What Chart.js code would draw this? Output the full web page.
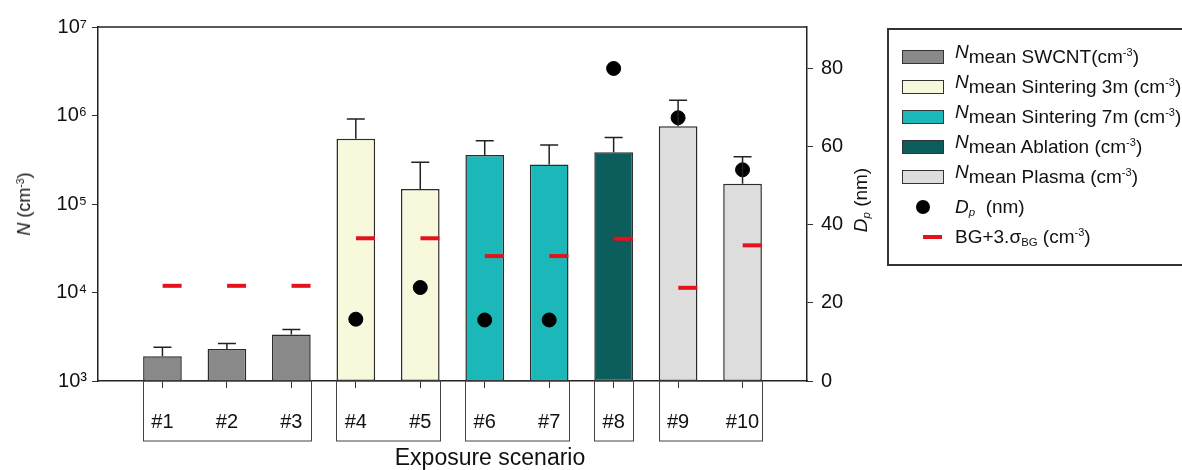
<!DOCTYPE html>
<html>
<head>
<meta charset="utf-8">
<script src="https://cdn.jsdelivr.net/npm/chart.js@4.4.0/dist/chart.umd.min.js"></script>
<style>
  html, body { margin: 0; padding: 0; background: #fff; overflow: hidden; }
  #wrap { position: relative; width: 1182px; height: 470px; overflow: hidden;
          font-family: 'Liberation Sans', Arial, sans-serif; color: #111; }
  #chart { position: absolute; left: 0; top: 0; }
  .ttl { position: absolute; white-space: nowrap; line-height: 1; }
  .rot { transform: translate(-50%, -50%) rotate(-90deg); }
  #xTitle { left: 490px; top: 457px; transform: translate(-50%, -50%); font-size: 23px; }
  #yTitle { left: 24px; top: 204px; font-size: 18px; }
  #y1Title { left: 860px; top: 200px; font-size: 19px; }
  #legend { position: absolute; left: 887px; top: 28px; width: 320px; height: 238px;
            border: 2px solid #333; box-sizing: border-box; padding-top: 12px; font-size: 19px; }
  .row { height: 30px; display: flex; align-items: center; white-space: nowrap; }
  .sym { width: 42px; height: 14px; margin-left: 13px; margin-right: 11px; position: relative; box-sizing: border-box; }
  .sw { border: 1.5px solid #333; }
  .dot { position: absolute; left: 14px; top: 0px; width: 14px; height: 14px; border-radius: 50%; background: #000; }
  .dash { position: absolute; left: 21px; top: 5px; width: 19px; height: 4px; background: #e3121b; }
  .up { position: relative; top: -5px; }
  sup { font-size: 0.58em; vertical-align: 0.6em; line-height: 0; }
  sub { font-size: 0.6em; vertical-align: -0.3em; line-height: 0; }
</style>
</head>
<body>
<div id="wrap">
  <canvas id="chart" width="1182" height="470"></canvas>
  <div id="xTitle" class="ttl">Exposure scenario</div>
  <div id="yTitle" class="ttl rot"><i>N</i> (cm<sup>-3</sup>)</div>
  <div id="y1Title" class="ttl rot"><i>D</i><sub><i>p</i></sub> (nm)</div>
  <div id="legend"></div>
</div>
<script>
// exposure scenarios and the measurement series they belong to
const scenarios = ['#1', '#2', '#3', '#4', '#5', '#6', '#7', '#8', '#9', '#10'];
const seriesNames = ['SWCNT', 'Sintering 3m', 'Sintering 7m', 'Ablation', 'Plasma'];
const seriesOf = [0, 0, 0, 1, 1, 2, 2, 3, 4, 4];

// N mean (cm-3), upper error, Dp (nm), background level BG+3 sigma (cm-3)
const nMean = [1900, 2300, 3350, 545000, 148000, 358000, 280000, 384000, 755000, 169000];
const nSD = [500, 360, 480, 367000, 148000, 161000, 184000, 182000, 735000, 174000];
const dpNm = [null, null, null, 15.8, 23.9, 15.6, 15.6, 79.9, 67.3, 54.0];
const bgLevel = [11900, 11900, 11900, 41000, 41000, 25800, 25800, 40500, 11300, 34100];

// tick labels
const leftTicks = [1e3, 1e4, 1e5, 1e6, 1e7];
const rightTicks = [0, 20, 40, 60, 80];

const seriesFill = ['#898989', '#f8f9dc', '#1cb8b9', '#0c5e5c', '#dddddd'];
const supDigits = ['\u2070', '\u00b9', '\u00b2', '\u00b3', '\u2074', '\u2075', '\u2076', '\u2077', '\u2078', '\u2079'];

const xPos = scenarios.map((s, i) => i + 1);

// legend (html so sub/superscripts come out right)
const legendEl = document.getElementById('legend');
seriesNames.forEach((name, s) => {
  const gap = s === 0 ? '' : ' ';
  legendEl.insertAdjacentHTML('beforeend',
    `<div class="row"><span class="sym sw" style="background:${seriesFill[s]}"></span>` +
    `<span><i class="up">N</i>mean ${name}${gap}(cm<sup>-3</sup>)</span></div>`);
});
legendEl.insertAdjacentHTML('beforeend',
  `<div class="row"><span class="sym"><span class="dot"></span></span><span><i>D</i><sub><i>p</i></sub>&nbsp; (nm)</span></div>`);
legendEl.insertAdjacentHTML('beforeend',
  `<div class="row"><span class="sym"><span class="dash"></span></span><span>BG+3.σ<sub>BG</sub> (cm<sup>-3</sup>)</span></div>`);

const barSets = seriesNames.map((name, s) => ({
  type: 'bar',
  label: name,
  data: xPos.filter((x, i) => seriesOf[i] === s).map(x => ({ x: x, y: nMean[x - 1] })),
  backgroundColor: seriesFill[s],
  borderColor: '#2b2b2b',
  borderWidth: 1.5,
  borderSkipped: false,
  grouped: false,
  barPercentage: 0.6,
  categoryPercentage: 1,
  yAxisID: 'y',
  order: 3
}));

const dpSet = {
  type: 'scatter',
  label: 'Dp (nm)',
  data: xPos.filter((x, i) => dpNm[i] != null).map(x => ({ x: x, y: dpNm[x - 1] })),
  pointRadius: 7,
  pointBackgroundColor: '#000',
  pointBorderColor: '#000',
  yAxisID: 'y1',
  order: 1
};

// red dash sits in the right half of each bar
const bgSet = {
  type: 'scatter',
  label: 'BG+3.sigma',
  data: xPos.map((x, i) => ({ x: x + 0.15, y: bgLevel[i] })),
  pointStyle: 'line',
  pointRadius: 9.5,
  pointBorderWidth: 4,
  pointBorderColor: '#e3121b',
  yAxisID: 'y',
  order: 2
};

const errorBars = {
  id: 'errorBars',
  afterDatasetsDraw(chart) {
    const { ctx, scales: { x, y } } = chart;
    ctx.save();
    ctx.strokeStyle = '#222';
    ctx.lineWidth = 1.5;
    nMean.forEach((m, i) => {
      const px = x.getPixelForValue(xPos[i]);
      const y0 = y.getPixelForValue(m);
      const y1 = y.getPixelForValue(m + nSD[i]);
      ctx.beginPath();
      ctx.moveTo(px, y0);
      ctx.lineTo(px, y1);
      ctx.moveTo(px - 9, y1);
      ctx.lineTo(px + 9, y1);
      ctx.stroke();
    });
    ctx.restore();
  }
};

const frame = {
  id: 'frame',
  afterDraw(chart) {
    const { ctx, chartArea: a, scales: { x } } = chart;
    ctx.save();
    ctx.strokeStyle = '#222';
    ctx.lineWidth = 1.5;
    ctx.beginPath();
    ctx.moveTo(a.left, a.top);
    ctx.lineTo(a.right, a.top);
    ctx.stroke();
    // boxes grouping the scenario labels of one series
    const groups = [];
    seriesOf.forEach((s, i) => {
      const g = groups[groups.length - 1];
      if (g && g.s === s) g.last = i; else groups.push({ s: s, first: i, last: i });
    });
    ctx.strokeStyle = '#444';
    ctx.lineWidth = 1;
    groups.forEach(g => {
      const l = Math.round(x.getPixelForValue(xPos[g.first] - 0.3)) + 0.5;
      const r = Math.round(x.getPixelForValue(xPos[g.last] + 0.3)) + 0.5;
      ctx.strokeRect(l, a.bottom, r - l, 60);
    });
    ctx.restore();
  }
};

Chart.defaults.font.family = "'Liberation Sans', Arial, sans-serif";
Chart.defaults.color = '#111';

new Chart(document.getElementById('chart'), {
  type: 'bar',
  data: { datasets: [...barSets, bgSet, dpSet] },
  options: {
    responsive: false,
    animation: false,
    devicePixelRatio: 1,
    layout: { padding: { top: 27, right: 300, left: 0, bottom: 0 } },
    plugins: { legend: { display: false }, tooltip: { enabled: false } },
    scales: {
      x: {
        type: 'linear', min: 0, max: 11, offset: false,
        afterBuildTicks: sc => { sc.ticks = xPos.map(v => ({ value: v })); },
        ticks: { callback: v => scenarios[v - 1] || '', font: { size: 20 }, padding: 22, maxRotation: 0, autoSkip: false },
        grid: { offset: false, drawOnChartArea: false, tickLength: 7, color: '#333' },
        border: { color: '#222', width: 1.5 },
        afterFit: sc => { sc.height = 89; }
      },
      y: {
        type: 'logarithmic', position: 'left', min: 1e3, max: 1e7,
        afterBuildTicks: sc => { sc.ticks = leftTicks.map(v => ({ value: v })); },
        ticks: { callback: v => '10' + supDigits[Math.round(Math.log10(v))], font: { size: 20 }, padding: 5 },
        grid: { drawOnChartArea: false, tickLength: 6, color: '#333' },
        border: { color: '#222', width: 1.5 },
        afterFit: sc => { sc.width = 98; }
      },
      y1: {
        type: 'linear', position: 'right', min: 0, max: 90.5,
        afterBuildTicks: sc => { sc.ticks = rightTicks.map(v => ({ value: v })); },
        ticks: { font: { size: 20 }, padding: 8 },
        grid: { drawOnChartArea: false, tickLength: 6, color: '#333' },
        border: { color: '#222', width: 1.5 },
        afterFit: sc => { sc.width = 75; }
      }
    }
  },
  plugins: [errorBars, frame]
});
</script>
</body>
</html>
